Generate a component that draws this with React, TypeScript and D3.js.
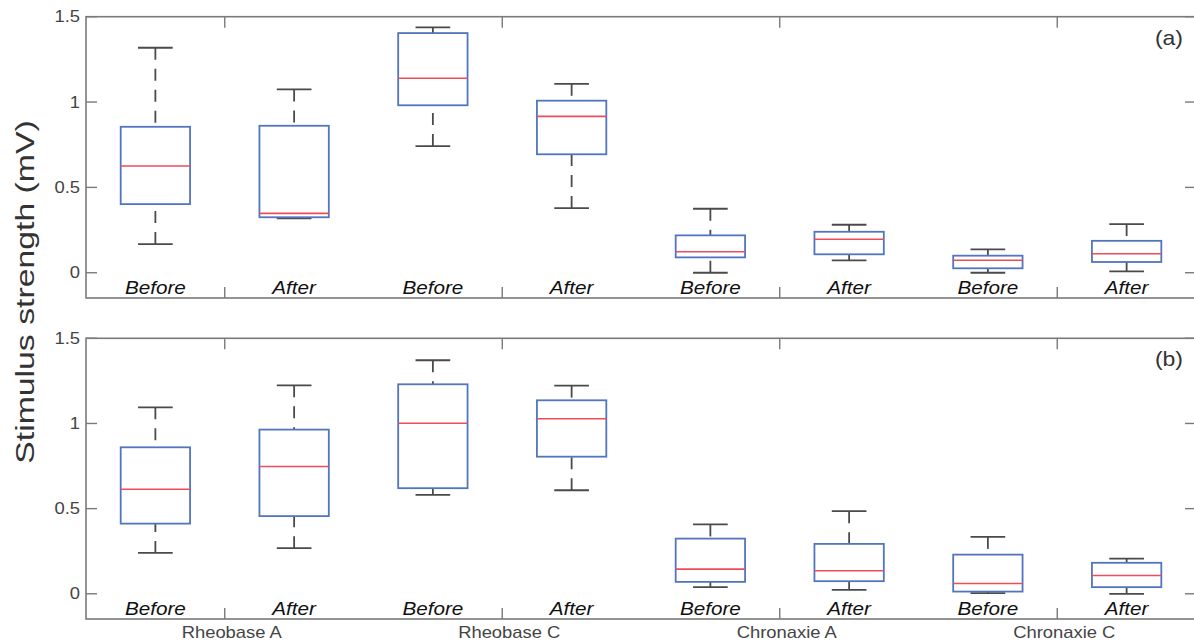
import React from 'react';
import * as d3 from 'd3';

// categories
const groups = ['Rheobase A', 'Rheobase C', 'Chronaxie A', 'Chronaxie C'];
const conditions = ['Before', 'After', 'Before', 'After', 'Before', 'After', 'Before', 'After'];
const yTicks = [0, 0.5, 1, 1.5];

// panel (a) box stats, one value per box
const aLow = [0.168, 0.319, 0.742, 0.379, 0.0, 0.073, 0.0, 0.008];
const aQ1 = [0.402, 0.325, 0.981, 0.694, 0.09, 0.108, 0.026, 0.063];
const aMed = [0.625, 0.348, 1.139, 0.916, 0.123, 0.196, 0.073, 0.111];
const aQ3 = [0.855, 0.861, 1.404, 1.008, 0.219, 0.24, 0.1, 0.187];
const aHigh = [1.318, 1.074, 1.438, 1.107, 0.375, 0.281, 0.137, 0.285];

// panel (b)
const bLow = [0.24, 0.268, 0.581, 0.608, 0.039, 0.023, 0.004, 0.0];
const bQ1 = [0.412, 0.456, 0.62, 0.805, 0.07, 0.074, 0.013, 0.039];
const bMed = [0.614, 0.747, 1.001, 1.028, 0.145, 0.135, 0.06, 0.107];
const bQ3 = [0.86, 0.964, 1.23, 1.136, 0.324, 0.293, 0.23, 0.182];
const bHigh = [1.095, 1.224, 1.371, 1.222, 0.407, 0.485, 0.334, 0.207];

const W = 1194;
const H = 644;
const font = '"Liberation Sans", Arial, sans-serif';
const stretch = 1.15;

const boxColor = '#5275c0';
const medColor = '#ee4d57';
const whiskColor = '#4a4a4a';
const axisColor = '#7a7a7a';

const x = d3.scaleLinear().domain([0.5, 8.5]).range([86, 1196]);
const boxHalf = (x(1.25) - x(1)) ;
const capHalf = (x(1.125) - x(1));

type PanelProps = {
  top: number;
  bottom: number;
  label: string;
  low: number[];
  q1: number[];
  med: number[];
  q3: number[];
  high: number[];
  showGroups: boolean;
};

const Panel = ({top, bottom, label, low, q1, med, q3, high, showGroups}: PanelProps) => {
  const y = d3.scaleLinear().domain([-0.148, 1.5]).range([bottom, top]);
  const [x0, x1] = x.range();
  const tickLen = 11;

  return (
    <g>
      {/* axes frame */}
      <rect x={x0} y={top} width={x1 - x0} height={bottom - top} fill="none" stroke={axisColor} strokeWidth={1.6} />
      {yTicks.map(t => (
        <g key={t}>
          <line x1={x0} x2={x0 + tickLen} y1={y(t)} y2={y(t)} stroke={axisColor} strokeWidth={1.4} />
          <line x1={x1 - tickLen} x2={x1} y1={y(t)} y2={y(t)} stroke={axisColor} strokeWidth={1.4} />
          <text
            transform={`translate(${x0 - 6},${y(t)}) scale(${stretch},1)`}
            textAnchor="end"
            dy="0.35em"
            fontFamily={font}
            fontSize={16}
            fill="#444"
          >
            {t}
          </text>
        </g>
      ))}
      {groups.map((g, i) => {
        const gx = x(2 * i + 1.5);
        return (
          <g key={g}>
            <line x1={gx} x2={gx} y1={top} y2={top + tickLen} stroke={axisColor} strokeWidth={1.4} />
            <line x1={gx} x2={gx} y1={bottom - tickLen} y2={bottom} stroke={axisColor} strokeWidth={1.4} />
            {showGroups && (
              <text
                transform={`translate(${gx + 7},${bottom + 19}) scale(${stretch},1)`}
                textAnchor="middle"
                fontFamily={font}
                fontSize={16}
                fill="#444"
              >
                {g}
              </text>
            )}
          </g>
        );
      })}

      {/* boxes */}
      {conditions.map((c, i) => {
        const cx = x(i + 1);
        return (
          <g key={i}>
            <line x1={cx} x2={cx} y1={y(high[i])} y2={y(q3[i])} stroke={whiskColor} strokeWidth={1.8} strokeDasharray="12 9" />
            <line x1={cx} x2={cx} y1={y(low[i])} y2={y(q1[i])} stroke={whiskColor} strokeWidth={1.8} strokeDasharray="12 9" />
            <line x1={cx - capHalf} x2={cx + capHalf} y1={y(high[i])} y2={y(high[i])} stroke={whiskColor} strokeWidth={1.8} />
            <line x1={cx - capHalf} x2={cx + capHalf} y1={y(low[i])} y2={y(low[i])} stroke={whiskColor} strokeWidth={1.8} />
            <rect
              x={cx - boxHalf}
              y={y(q3[i])}
              width={boxHalf * 2}
              height={y(q1[i]) - y(q3[i])}
              fill="none"
              stroke={boxColor}
              strokeWidth={1.8}
            />
            <line x1={cx - boxHalf} x2={cx + boxHalf} y1={y(med[i])} y2={y(med[i])} stroke={medColor} strokeWidth={1.6} />
            <text
              transform={`translate(${cx},${y(-0.123)}) scale(${stretch},1)`}
              textAnchor="middle"
              fontFamily={font}
              fontStyle="italic"
              fontSize={18}
              fill="#111"
            >
              {c}
            </text>
          </g>
        );
      })}

      <text
        transform={`translate(${1183},${top + 28}) scale(${stretch},1)`}
        textAnchor="end"
        fontFamily={font}
        fontSize={20}
        fill="#333"
      >
        {label}
      </text>
    </g>
  );
};

export default function App() {
  return (
    <svg width={W} height={H} style={{position: 'absolute', left: 0, top: 0, background: '#fff'}}>
      <rect width={W} height={H} fill="#fff" />
      <Panel top={16.7} bottom={298} label="(a)" low={aLow} q1={aQ1} med={aMed} q3={aQ3} high={aHigh} showGroups={false} />
      <Panel top={338.3} bottom={619} label="(b)" low={bLow} q1={bQ1} med={bMed} q3={bQ3} high={bHigh} showGroups={true} />
      <text
        transform={`translate(34,292) rotate(-90) scale(1.3,1)`}
        textAnchor="middle"
        fontFamily={font}
        fontSize={26}
        fill="#333"
      >
        Stimulus strength (mV)
      </text>
    </svg>
  );
}
